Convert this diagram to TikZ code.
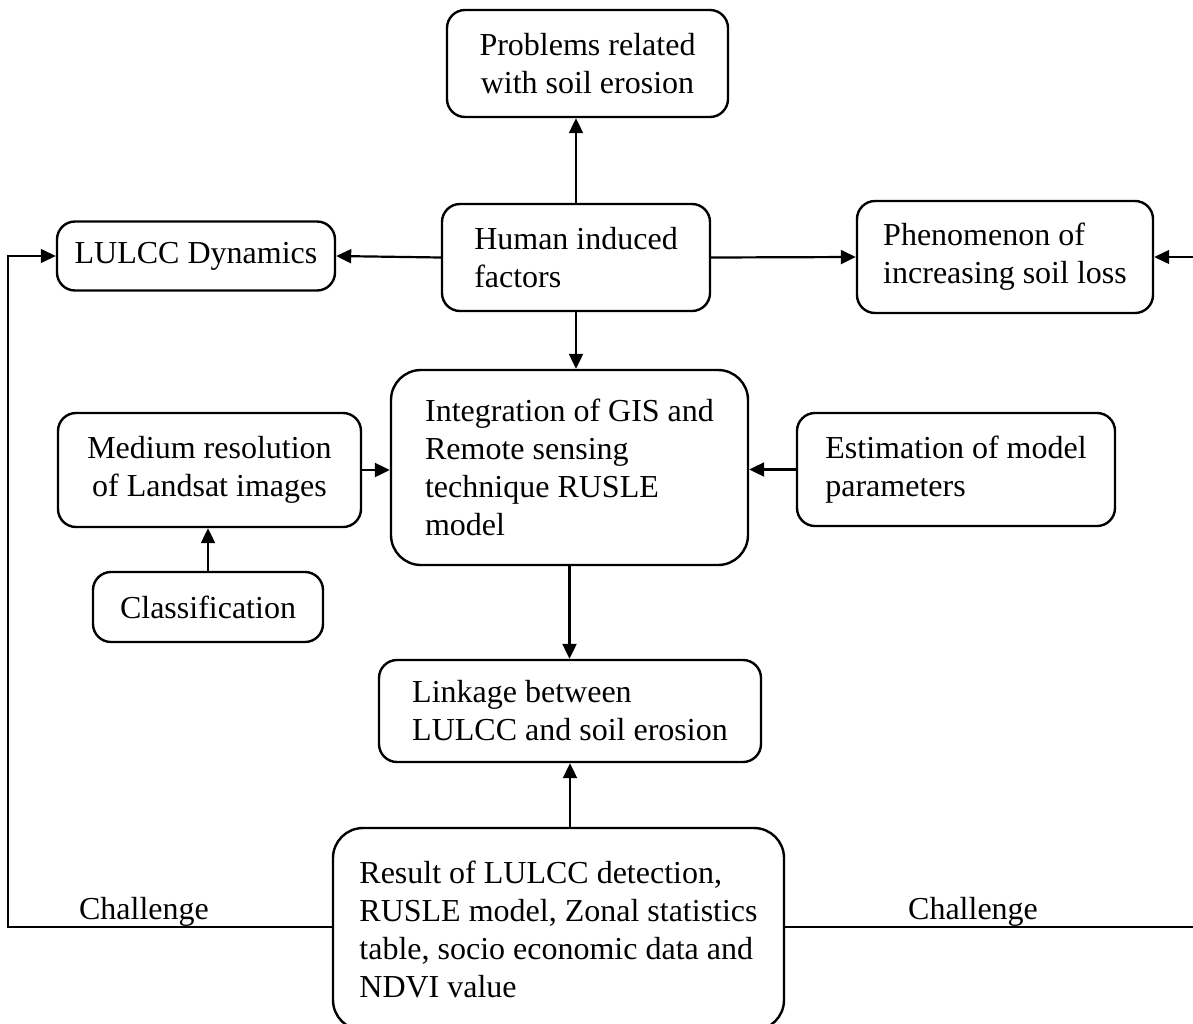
\documentclass[tikz,border=0pt]{standalone}
\usepackage{fontspec}
\setmainfont{Liberation Serif}
\usetikzlibrary{arrows.meta}
\tikzset{box/.style={rectangle,rounded corners=18pt,draw=black,line width=2.4pt,fill=white,font=\fontsize{32}{38}\selectfont,inner ysep=0pt}}
\tikzset{bigBox/.style={box,rounded corners=30pt}}
\tikzset{toArrow/.style={-{Triangle[length=15pt,width=14pt]},line width=2.2pt}}
\tikzset{challenge/.style={-{Triangle[length=15pt,width=14pt]},line width=1.3pt}}
\tikzset{chLabel/.style={font=\fontsize{32}{38}\selectfont,above,inner sep=0pt}}

\begin{document}
\begin{tikzpicture}[x=1pt,y=-1pt]
\useasboundingbox (0,0) rectangle (1193,1023);
% top row
\node (prob) [box,align=center,minimum width=281pt,minimum height=107pt] at (587.5,63.5) {Problems related\\with soil erosion};
\node (lulcc) [box,minimum width=278pt,minimum height=69pt] at (196,256) {LULCC Dynamics};
\node (human) [box,align=left,minimum width=268pt,minimum height=107pt] at (576,257.5) {Human induced\\factors};
\node (phen) [box,align=left,minimum width=296pt,minimum height=112pt] at (1005,257) {Phenomenon of\\increasing soil loss};
% middle
\node (integ) [bigBox,align=left,minimum width=357pt,minimum height=195pt] at (569.5,467.5) {Integration of GIS and\\Remote sensing\\technique RUSLE\\model};
\node (med) [box,align=center,minimum width=303pt,minimum height=114pt] at (209.5,470) {Medium resolution\\of Landsat images};
\node (est) [box,align=left,minimum width=318pt,minimum height=113pt] at (956,469.5) {Estimation of model\\parameters};
\node (cls) [box,minimum width=230pt,minimum height=70pt] at (208,607) {Classification};
% bottom
\node (link) [box,align=left,minimum width=382pt,minimum height=102pt] at (570,711) {Linkage between\\LULCC and soil erosion};
\node (res) [bigBox,align=left,minimum width=451pt,minimum height=202pt] at (558.5,929) {Result of LULCC detection,\\RUSLE model, Zonal statistics\\table, socio economic data and\\NDVI value};

\draw[toArrow] (human.north) -- (human.north |- prob.south);
\draw[toArrow] (human.west) -- (lulcc.east);
\draw[toArrow] (human.east) -- (phen.west);
\draw[toArrow] (human.south) -- (human.south |- integ.north);
\draw[toArrow] (med.east) -- (med.east -| integ.west);
\draw[toArrow] (est.west) -- (est.west -| integ.east);
\draw[toArrow] (cls.north) -- (cls.north |- med.south);
\draw[toArrow] (integ.south) -- (integ.south |- link.north);
\draw[toArrow] (link.south |- res.north) -- (link.south);

% feedback lines
\coordinate (lTurn) at (8,927);
\coordinate (rTurn) at (1193.5,927);
\draw[challenge] (res.west |- lTurn) -- node[chLabel,pos=0.58] {Challenge} (lTurn) |- (lulcc.west);
\draw[challenge] (res.east |- rTurn) -- node[chLabel,pos=0.46] {Challenge} (rTurn) |- (phen.east);
\end{tikzpicture}
\end{document}
